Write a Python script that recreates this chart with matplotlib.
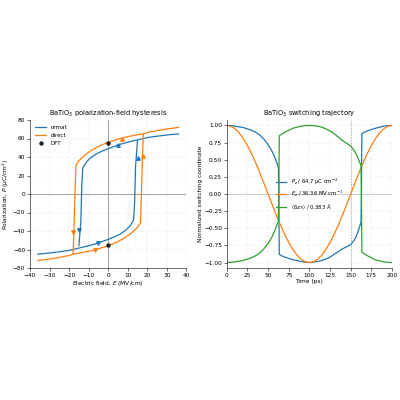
import matplotlib
matplotlib.use("Agg")
import matplotlib.pyplot as plt
import numpy as np

# Left: hysteresis branches (E in MV/cm, P in uC/cm2)
ormat_up_E = [36, 30, 25, 20, 15, 10, 5, 0, -3, -6, -9, -11, -12.5, -13, -13.5, -14, -15]
ormat_up_P = [65, 63.8, 62.5, 61, 58.5, 56, 53, 49, 46.5, 43.5, 39, 35, 30, 28, 10, -30, -56]
ormat_lo_E = [-36, -30, -25, -20, -15, -10, -5, 0, 3, 6, 9, 11, 12.5, 13, 13.5, 14, 15]
ormat_lo_P = [-65, -63.8, -62.5, -61, -58.5, -56, -53, -49, -46.5, -43.5, -39, -35, -30, -28, -10, 30, 58]
direct_up_E = [36, 30, 25, 20, 18, 15, 10, 5, 0, -4, -8, -12, -15, -16.5, -17, -17.5, -18]
direct_up_P = [72, 70.3, 68.5, 66.5, 65, 64, 62, 59.3, 56, 52.5, 48, 42, 36, 31, 0, -40, -65]
direct_lo_E = [-36, -30, -25, -20, -18, -15, -10, -5, 0, 4, 8, 12, 15, 16.5, 17, 17.5, 18]
direct_lo_P = [-72, -70.3, -68.5, -66.5, -65, -64, -62, -59.3, -56, -52.5, -48, -42, -36, -31, 0, 40, 65]
ormat_arrows_up = ([5, 15], [53, 39])
ormat_arrows_dn = ([-5, -15], [-53, -39])
direct_arrows_up = ([7, 18], [60, 41])
direct_arrows_dn = ([-7, -18], [-60, -41])
dft_E = [0, 0]
dft_P = [55, -55]

# Right: switching trajectory
t = [0, 5, 10, 15, 20, 25, 30, 35, 40, 45, 50, 55, 58, 61, 62.5, 63, 63.5, 66, 70, 75, 80, 85, 90, 95,
     100, 105, 110, 115, 120, 125, 130, 135, 140, 145, 150, 155, 158, 161, 162.5, 163, 163.5, 166,
     170, 175, 180, 185, 190, 195, 200]
P_n = [1.0, 0.998, 0.99, 0.98, 0.97, 0.95, 0.93, 0.9, 0.86, 0.8, 0.72, 0.62, 0.54, 0.44, 0.38, 0.0,
       -0.88, -0.9, -0.92, -0.94, -0.96, -0.97, -0.985, -0.995, -1.0, -0.995, -0.985, -0.97, -0.95,
       -0.92, -0.88, -0.84, -0.8, -0.77, -0.74, -0.66, -0.58, -0.47, -0.41, 0.0, 0.88, 0.9, 0.92,
       0.94, 0.96, 0.975, 0.99, 0.998, 1.0]
E_n = [1.0, 0.988, 0.951, 0.891, 0.809, 0.707, 0.588, 0.454, 0.309, 0.156, 0.0, -0.156, -0.249,
       -0.337, -0.383, -0.397, -0.411, -0.482, -0.588, -0.707, -0.809, -0.891, -0.951, -0.988,
       -1.0, -0.988, -0.951, -0.891, -0.809, -0.707, -0.588, -0.454, -0.309, -0.156, 0.0, 0.156,
       0.249, 0.337, 0.383, 0.397, 0.411, 0.482, 0.588, 0.707, 0.809, 0.891, 0.951, 0.988, 1.0]
S_n = [-1.0, -0.998, -0.99, -0.98, -0.97, -0.95, -0.93, -0.9, -0.86, -0.8, -0.72, -0.62, -0.54,
       -0.44, -0.4, 0.0, 0.85, 0.87, 0.9, 0.93, 0.96, 0.975, 0.99, 0.998, 1.0, 0.998, 0.99, 0.975,
       0.95, 0.92, 0.88, 0.83, 0.78, 0.74, 0.7, 0.62, 0.55, 0.46, 0.41, 0.0, -0.85, -0.87, -0.9,
       -0.93, -0.96, -0.975, -0.99, -0.998, -1.0]

plt.rcParams.update({"font.size": 4.2, "axes.linewidth": 0.4,
                     "xtick.major.width": 0.4, "ytick.major.width": 0.4,
                     "xtick.major.size": 2, "ytick.major.size": 2})
blue, orange, green = "#1f77b4", "#ff7f0e", "#2ca02c"

fig = plt.figure(figsize=(4, 4), dpi=100)
ax1 = fig.add_axes([0.075, 0.33, 0.391, 0.37])
ax2 = fig.add_axes([0.567, 0.33, 0.413, 0.37])

for ax in (ax1, ax2):
    ax.grid(True, ls=":", lw=0.3, color="#cfcfcf")
    for s in ("top", "right"):
        ax.spines[s].set_visible(False)

ax1.axhline(0, color="gray", lw=0.5)
ax1.axvline(0, color="gray", lw=0.5)
ax1.plot(ormat_up_E, ormat_up_P, color=blue, lw=0.9, label="ormat")
ax1.plot(ormat_lo_E, ormat_lo_P, color=blue, lw=0.9)
ax1.plot(direct_up_E, direct_up_P, color=orange, lw=0.9, label="direct")
ax1.plot(direct_lo_E, direct_lo_P, color=orange, lw=0.9)
ax1.plot(*ormat_arrows_up, "^", color=blue, ms=2.5, ls="none")
ax1.plot(*ormat_arrows_dn, "v", color=blue, ms=2.5, ls="none")
ax1.plot(*direct_arrows_up, "^", color=orange, ms=2.5, ls="none")
ax1.plot(*direct_arrows_dn, "v", color=orange, ms=2.5, ls="none")
ax1.plot(dft_E, dft_P, "o", color="#222222", ms=2.2, ls="none", label="DFT", zorder=5)
ax1.set_xlim(-40, 40)
ax1.set_ylim(-80, 80)
ax1.set_xticks(range(-40, 41, 10))
ax1.set_yticks(range(-80, 81, 20))
ax1.set_xlabel("Electric field, $E$ (MV/cm)", labelpad=1)
ax1.set_ylabel("Polarization, $P$ (μC/cm$^2$)", labelpad=1)
ax1.set_title("BaTiO$_3$ polarization-field hysteresis", fontsize=4.8, pad=3)
ax1.legend(loc="upper left", frameon=False, fontsize=4, handlelength=2)
ax1.tick_params(pad=1.5)

ax2.axhline(0, color="#bbbbbb", lw=0.5)
ax2.axvline(150, color="#999999", lw=0.4, ls="--")
ax2.plot(t, P_n, color=blue, lw=0.9, label="$P_z$ / 64.7 μC cm$^{-2}$")
ax2.plot(t, E_n, color=orange, lw=0.9, label="$E_z$ / 36.36 MV cm$^{-1}$")
ax2.plot(t, S_n, color=green, lw=0.9, label="⟨δz$_{Ti}$⟩ / 0.383 Å")
ax2.set_xlim(0, 200)
ax2.set_ylim(-1.08, 1.08)
ax2.set_xticks(range(0, 201, 25))
ax2.set_yticks(np.arange(-1, 1.01, 0.25))
ax2.set_xlabel("Time (ps)", labelpad=1)
ax2.set_ylabel("Normalized switching coordinate", labelpad=1)
ax2.set_title("BaTiO$_3$ switching trajectory", fontsize=4.8, pad=3)
ax2.legend(loc="center", frameon=False, fontsize=3.8, handlelength=2)
ax2.tick_params(pad=1.5)

fig.savefig("out.png", dpi=100)
